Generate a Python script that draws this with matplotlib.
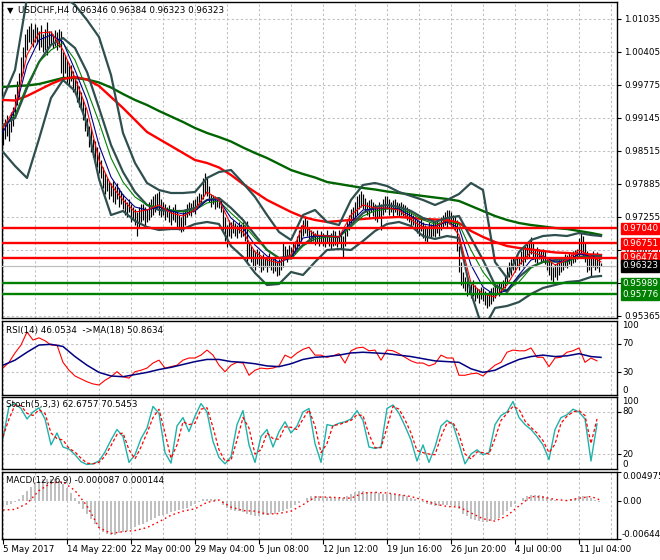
import numpy as np
import matplotlib
matplotlib.use("Agg")
import matplotlib.pyplot as plt

# ---------------- data ----------------
title_text = "USDCHF,H4 0.96346 0.96384 0.96323 0.96323"
rsi_text = "RSI(14) 46.0534  ->MA(18) 50.8634"
sto_text = "Stoch(5,3,3) 62.6757 70.5453"
macd_text = "MACD(12,26,9) -0.000087 0.000144"

date_bars = [0, 32, 64, 96, 128, 160, 192, 224, 256, 288]
date_labels = ["5 May 2017", "14 May 22:00", "22 May 00:00", "29 May 04:00", "5 Jun 08:00",
               "12 Jun 12:00", "19 Jun 16:00", "26 Jun 20:00", "4 Jul 00:00", "11 Jul 04:00"]

price_ticks = [1.01035, 1.00405, 0.99775, 0.99145, 0.98515, 0.97885, 0.97255, 0.96625, 0.95995, 0.95365]
red_levels = [0.97040, 0.96751, 0.96474]
green_levels = [0.95989, 0.95776]
last_price = 0.96323

bar_low = [
0.9862, 0.9875, 0.9880, 0.9870, 0.9888, 0.9900, 0.9915, 0.9940, 0.9955, 0.9985,
1.0000, 1.0030, 1.0045, 1.0060, 1.0055, 1.0050, 1.0060, 1.0055, 1.0045, 1.0050,
1.0040, 1.0045, 1.0035, 1.0050, 1.0055, 1.0048, 1.0052, 1.0045, 1.0050, 1.0000,
0.9990, 1.0000, 0.9980, 0.9975, 0.9985, 0.9965, 0.9960, 0.9945, 0.9935, 0.9930,
0.9910, 0.9890, 0.9880, 0.9860, 0.9850, 0.9840, 0.9830, 0.9820, 0.9810, 0.9800,
0.9780, 0.9770, 0.9775, 0.9760, 0.9765, 0.9755, 0.9750, 0.9760, 0.9745, 0.9750,
0.9740, 0.9730, 0.9725, 0.9735, 0.9715, 0.9720, 0.9710, 0.9690, 0.9705, 0.9715,
0.9720, 0.9710, 0.9715, 0.9720, 0.9725, 0.9730, 0.9735, 0.9740, 0.9730, 0.9725,
0.9730, 0.9720, 0.9725, 0.9715, 0.9710, 0.9720, 0.9715, 0.9705, 0.9700, 0.9697,
0.9698, 0.9710, 0.9725, 0.9730, 0.9728, 0.9735, 0.9732, 0.9740, 0.9745, 0.9750,
0.9760, 0.9770, 0.9765, 0.9755, 0.9745, 0.9750, 0.9740, 0.9745, 0.9742, 0.9735,
0.9700, 0.9680, 0.9668, 0.9690, 0.9685, 0.9695, 0.9690, 0.9685, 0.9695, 0.9688,
0.9690, 0.9680, 0.9640, 0.9650, 0.9640, 0.9630, 0.9625, 0.9635, 0.9630, 0.9620,
0.9625, 0.9630, 0.9620, 0.9630, 0.9625, 0.9618, 0.9622, 0.9612, 0.9615, 0.9625,
0.9630, 0.9645, 0.9640, 0.9650, 0.9645, 0.9650, 0.9655, 0.9660, 0.9670, 0.9680,
0.9690, 0.9695, 0.9690, 0.9680, 0.9675, 0.9680, 0.9672, 0.9678, 0.9670, 0.9675,
0.9670, 0.9668, 0.9675, 0.9670, 0.9665, 0.9670, 0.9672, 0.9668, 0.9675, 0.9665,
0.9650, 0.9670, 0.9690, 0.9700, 0.9710, 0.9715, 0.9720, 0.9730, 0.9740, 0.9745,
0.9740, 0.9735, 0.9730, 0.9725, 0.9735, 0.9728, 0.9720, 0.9715, 0.9725, 0.9700,
0.9730, 0.9735, 0.9740, 0.9730, 0.9735, 0.9728, 0.9735, 0.9730, 0.9725, 0.9730,
0.9728, 0.9725, 0.9720, 0.9715, 0.9705, 0.9710, 0.9700, 0.9695, 0.9690, 0.9698,
0.9685, 0.9680, 0.9676, 0.9690, 0.9685, 0.9690, 0.9688, 0.9695, 0.9690, 0.9700,
0.9705, 0.9710, 0.9705, 0.9712, 0.9708, 0.9705, 0.9700, 0.9660, 0.9620, 0.9595,
0.9590, 0.9585, 0.9575, 0.9580, 0.9570, 0.9575, 0.9565, 0.9570, 0.9562, 0.9568,
0.9565, 0.9558, 0.9552, 0.9555, 0.9560, 0.9565, 0.9570, 0.9578, 0.9575, 0.9580,
0.9585, 0.9590, 0.9600, 0.9610, 0.9615, 0.9625, 0.9620, 0.9630, 0.9625, 0.9635,
0.9630, 0.9640, 0.9645, 0.9650, 0.9655, 0.9645, 0.9640, 0.9635, 0.9645, 0.9638,
0.9640, 0.9635, 0.9625, 0.9615, 0.9605, 0.9600, 0.9610, 0.9605, 0.9615, 0.9620,
0.9625, 0.9630, 0.9628, 0.9635, 0.9632, 0.9638, 0.9640, 0.9645, 0.9650, 0.9655,
0.9650, 0.9640, 0.9620, 0.9625, 0.9610, 0.9630, 0.9625, 0.9628, 0.9620, 0.96323]

bar_high = [
0.9898, 0.9912, 0.9920, 0.9905, 0.9925, 0.9935, 0.9960, 0.9985, 1.0000, 1.0030,
1.0050, 1.0075, 1.0085, 1.0090, 1.0096, 1.0085, 1.0094, 1.0088, 1.0080, 1.0092,
1.0075, 1.0085, 1.0098, 1.0080, 1.0080, 1.0075, 1.0082, 1.0078, 1.0085, 1.0080,
1.0040, 1.0035, 1.0025, 1.0020, 1.0015, 1.0005, 0.9995, 0.9985, 0.9975, 0.9965,
0.9950, 0.9935, 0.9915, 0.9900, 0.9895, 0.9875, 0.9870, 0.9860, 0.9850, 0.9835,
0.9820, 0.9810, 0.9800, 0.9795, 0.9790, 0.9795, 0.9785, 0.9790, 0.9780, 0.9775,
0.9770, 0.9760, 0.9755, 0.9760, 0.9750, 0.9745, 0.9740, 0.9735, 0.9745, 0.9750,
0.9750, 0.9745, 0.9740, 0.9755, 0.9760, 0.9765, 0.9770, 0.9772, 0.9775, 0.9760,
0.9755, 0.9750, 0.9745, 0.9748, 0.9740, 0.9745, 0.9750, 0.9735, 0.9730, 0.9725,
0.9735, 0.9740, 0.9750, 0.9755, 0.9752, 0.9758, 0.9760, 0.9765, 0.9772, 0.9770,
0.9800, 0.9810, 0.9800, 0.9785, 0.9770, 0.9768, 0.9765, 0.9760, 0.9762, 0.9760,
0.9740, 0.9725, 0.9710, 0.9720, 0.9715, 0.9720, 0.9714, 0.9710, 0.9715, 0.9712,
0.9715, 0.9710, 0.9718, 0.9675, 0.9670, 0.9665, 0.9660, 0.9665, 0.9660, 0.9650,
0.9655, 0.9650, 0.9648, 0.9657, 0.9650, 0.9645, 0.9650, 0.9640, 0.9645, 0.9650,
0.9676, 0.9670, 0.9665, 0.9672, 0.9668, 0.9675, 0.9680, 0.9690, 0.9700, 0.9710,
0.9720, 0.9728, 0.9720, 0.9705, 0.9700, 0.9698, 0.9695, 0.9700, 0.9692, 0.9698,
0.9695, 0.9690, 0.9700, 0.9692, 0.9695, 0.9700, 0.9698, 0.9690, 0.9700, 0.9695,
0.9690, 0.9705, 0.9720, 0.9730, 0.9740, 0.9745, 0.9755, 0.9765, 0.9770, 0.9775,
0.9770, 0.9762, 0.9755, 0.9758, 0.9760, 0.9755, 0.9750, 0.9745, 0.9755, 0.9750,
0.9760, 0.9765, 0.9765, 0.9760, 0.9755, 0.9758, 0.9760, 0.9755, 0.9752, 0.9755,
0.9750, 0.9748, 0.9745, 0.9740, 0.9735, 0.9730, 0.9728, 0.9720, 0.9718, 0.9725,
0.9715, 0.9710, 0.9705, 0.9715, 0.9712, 0.9720, 0.9715, 0.9720, 0.9715, 0.9725,
0.9730, 0.9735, 0.9738, 0.9738, 0.9735, 0.9730, 0.9728, 0.9720, 0.9670, 0.9640,
0.9620, 0.9611, 0.9605, 0.9600, 0.9598, 0.9605, 0.9595, 0.9590, 0.9588, 0.9592,
0.9590, 0.9585, 0.9580, 0.9585, 0.9590, 0.9592, 0.9595, 0.9598, 0.9600, 0.9602,
0.9605, 0.9615, 0.9630, 0.9640, 0.9645, 0.9650, 0.9648, 0.9655, 0.9650, 0.9660,
0.9665, 0.9670, 0.9675, 0.9678, 0.9687, 0.9675, 0.9665, 0.9668, 0.9665, 0.9662,
0.9665, 0.9660, 0.9650, 0.9645, 0.9640, 0.9630, 0.9635, 0.9640, 0.9645, 0.9650,
0.9650, 0.9655, 0.9652, 0.9657, 0.9655, 0.9660, 0.9662, 0.9665, 0.9685, 0.9695,
0.9690, 0.9675, 0.9660, 0.9655, 0.9650, 0.9660, 0.9655, 0.9658, 0.9650, 0.96384]

# smooth indicator lines, read every 6 bars (+ last bar)
ma_slow_green = [
0.99737, 0.99756, 0.99765, 0.99794, 0.99851, 0.99909, 0.99909, 0.99880, 0.99823, 0.99727,
0.99603, 0.99489, 0.99393, 0.99279, 0.99174, 0.99069, 0.98954, 0.98859, 0.98782, 0.98696,
0.98582, 0.98477, 0.98381, 0.98267, 0.98152, 0.98076, 0.98009, 0.97923, 0.97885, 0.97847,
0.97809, 0.97780, 0.97742, 0.97713, 0.97685, 0.97656, 0.97627, 0.97599, 0.97561, 0.97465,
0.97370, 0.97274, 0.97198, 0.97140, 0.97102, 0.97074, 0.97045, 0.97026, 0.96988, 0.96950,
0.96912]
ma_slow_red = [
0.99489, 0.99479, 0.99565, 0.99680, 0.99794, 0.99890, 0.99928, 0.99880, 0.99756, 0.99546,
0.99336, 0.99107, 0.98878, 0.98744, 0.98611, 0.98477, 0.98343, 0.98286, 0.98200, 0.98057,
0.97885, 0.97732, 0.97580, 0.97465, 0.97351, 0.97255, 0.97198, 0.97160, 0.97179, 0.97198,
0.97217, 0.97236, 0.97245, 0.97255, 0.97236, 0.97217, 0.97207, 0.97198, 0.97140, 0.96988,
0.96874, 0.96778, 0.96701, 0.96663, 0.96635, 0.96607, 0.96578, 0.96568, 0.96549, 0.96540,
0.96530]
bb_upper = [
0.99527, 1.00061, 1.01436, 1.01684, 1.01551, 1.01474, 1.01302, 1.01016, 1.00691, 0.99966,
0.98859, 0.98286, 0.97904, 0.97770, 0.97713, 0.97713, 0.97732, 0.98000, 0.98114, 0.98152,
0.97904, 0.97637, 0.97293, 0.96969, 0.96816, 0.97293, 0.97389, 0.97160, 0.97102, 0.97580,
0.97866, 0.97904, 0.97847, 0.97732, 0.97656, 0.97580, 0.97484, 0.97580, 0.97694, 0.97904,
0.97770, 0.96396, 0.96090, 0.96587, 0.96816, 0.96892, 0.96911, 0.96892, 0.96950, 0.96911,
0.96892]
bb_middle = [
0.99011, 0.99145, 0.99718, 1.00214, 1.00539, 1.00672, 1.00481, 1.00023, 0.99336, 0.98630,
0.98114, 0.97732, 0.97484, 0.97389, 0.97370, 0.97370, 0.97427, 0.97580, 0.97618, 0.97427,
0.97198, 0.96911, 0.96625, 0.96472, 0.96510, 0.96720, 0.96892, 0.96892, 0.96873, 0.97102,
0.97331, 0.97446, 0.97484, 0.97446, 0.97370, 0.97236, 0.97160, 0.97236, 0.97274, 0.96854,
0.96434, 0.95957, 0.95823, 0.96110, 0.96300, 0.96396, 0.96434, 0.96453, 0.96491, 0.96510,
0.96510]
bb_lower = [
0.98496, 0.98229, 0.98000, 0.98744, 0.99527, 0.99870, 0.99661, 0.99031, 0.97980, 0.97293,
0.97370, 0.97179, 0.97064, 0.97007, 0.97026, 0.97026, 0.97121, 0.97160, 0.97121, 0.96701,
0.96491, 0.96186, 0.95957, 0.95976, 0.96205, 0.96148, 0.96396, 0.96625, 0.96644, 0.96625,
0.96797, 0.96988, 0.97121, 0.97160, 0.97083, 0.96892, 0.96835, 0.96892, 0.96854, 0.95804,
0.95098, 0.95518, 0.95556, 0.95632, 0.95785, 0.95900, 0.95957, 0.96014, 0.96033, 0.96110,
0.96129]
ma_fast_red = [
0.98954, 0.99336, 1.00348, 1.00768, 1.00787, 1.00443, 0.99909, 0.99298, 0.98343, 0.97866,
0.97580, 0.97351, 0.97389, 0.97484, 0.97331, 0.97274, 0.97389, 0.97732, 0.97580, 0.97102,
0.96969, 0.96587, 0.96434, 0.96377, 0.96530, 0.97102, 0.96911, 0.96892, 0.96873, 0.97293,
0.97484, 0.97427, 0.97427, 0.97389, 0.97198, 0.97064, 0.97064, 0.97198, 0.96911, 0.95995,
0.95785, 0.95728, 0.95957, 0.96339, 0.96587, 0.96510, 0.96339, 0.96434, 0.96625, 0.96510,
0.96396]
ma_fast_blue = [
0.98878, 0.99298, 1.00157, 1.00634, 1.00730, 1.00596, 1.00061, 0.99489, 0.98630, 0.98019,
0.97675, 0.97446, 0.97389, 0.97446, 0.97370, 0.97312, 0.97370, 0.97580, 0.97580, 0.97236,
0.97045, 0.96720, 0.96510, 0.96396, 0.96472, 0.96854, 0.96892, 0.96892, 0.96873, 0.97160,
0.97389, 0.97408, 0.97427, 0.97408, 0.97274, 0.97121, 0.97083, 0.97160, 0.97045, 0.96339,
0.95919, 0.95766, 0.95862, 0.96148, 0.96434, 0.96510, 0.96396, 0.96415, 0.96549, 0.96510,
0.96453]
ma_fast_green = [
0.98973, 0.99202, 0.99775, 1.00214, 1.00443, 1.00577, 1.00252, 0.99680, 0.99069, 0.98381,
0.97923, 0.97637, 0.97484, 0.97446, 0.97389, 0.97351, 0.97389, 0.97522, 0.97561, 0.97331,
0.97121, 0.96854, 0.96625, 0.96472, 0.96453, 0.96701, 0.96835, 0.96873, 0.96873, 0.97064,
0.97274, 0.97370, 0.97408, 0.97408, 0.97331, 0.97198, 0.97121, 0.97160, 0.97121, 0.96625,
0.96205, 0.95919, 0.95862, 0.96014, 0.96281, 0.96396, 0.96396, 0.96396, 0.96491, 0.96491,
0.96453]

# RSI, read every 3 bars
rsi = [
36, 44, 57, 68, 86, 75, 78, 74, 68, 68,
44, 33, 25, 21, 17, 14, 12.5, 19, 24, 31,
24, 22, 31, 33, 36, 43, 47, 36, 38, 40,
47, 50, 50, 54, 61, 54, 40, 31, 40, 44,
43, 26, 33, 36, 35, 36, 39, 54, 50, 57,
62, 65, 54, 54, 51, 53, 56, 43, 60, 64,
65, 60, 61, 47, 61, 60, 56, 51, 46, 43,
43, 39, 42, 54, 50, 50, 26, 26, 28, 29,
25, 33, 40, 44, 58, 61, 60, 60, 64, 51,
51, 38, 50, 51, 58, 60, 64, 44, 50, 46]
# RSI moving average, every 6 bars (+ last bar)
rsi_ma = [
40, 47, 58, 68, 69, 66, 52, 40, 30, 25,
24, 27, 30, 34, 37, 41, 45, 48, 48, 45,
44, 42, 39, 38, 42, 48, 51, 52, 54, 57,
58, 57, 56, 54, 52, 49, 46, 45, 44, 35,
30, 33, 41, 48, 52, 54, 52, 53, 56, 52,
50.86]
# Stochastic, every 3 bars
sto_main = [
42, 88, 92, 85, 70, 80, 86, 70, 33, 50,
30, 27, 19, 9, 5, 6, 10, 23, 40, 55,
45, 8, 19, 42, 57, 88, 78, 22, 7, 60,
72, 52, 74, 92, 80, 38, 15, 6, 16, 62,
82, 33, 8, 45, 55, 30, 52, 66, 50, 60,
80, 85, 35, 8, 62, 60, 64, 66, 70, 82,
68, 30, 28, 30, 85, 90, 78, 60, 40, 10,
33, 8, 30, 60, 68, 62, 35, 6, 20, 26,
19, 22, 62, 75, 80, 95, 72, 62, 55, 45,
33, 12, 55, 72, 76, 84, 80, 70, 10, 63]
sto_signal = [
45, 70, 90, 89, 78, 75, 83, 78, 50, 42,
40, 28, 23, 14, 7, 6, 8, 17, 32, 48,
50, 26, 13, 30, 50, 72, 84, 50, 14, 33,
66, 62, 64, 84, 86, 58, 26, 10, 11, 40,
72, 57, 20, 26, 50, 42, 41, 59, 58, 55,
70, 83, 60, 22, 35, 61, 62, 65, 68, 76,
75, 48, 29, 29, 58, 88, 84, 69, 50, 25,
22, 20, 19, 45, 64, 65, 48, 20, 13, 23,
22, 20, 42, 68, 78, 88, 84, 67, 58, 50,
39, 22, 34, 64, 74, 80, 82, 75, 35, 70]
# MACD histogram, every 2 bars
macd_hist = [
-0.0008, -0.0007, -0.0005, -0.0002, 0.0003, 0.0010, 0.0017, 0.0024, 0.0030, 0.0034,
0.0037, 0.0038, 0.0038, 0.0037, 0.0035, 0.0030, 0.0023, 0.0014, 0.0005, -0.0004,
-0.0013, -0.0022, -0.0031, -0.0039, -0.0046, -0.0052, -0.0056, -0.0058, -0.0057, -0.0055,
-0.0053, -0.0051, -0.0047, -0.0044, -0.0041, -0.0039, -0.0035, -0.0032, -0.0029, -0.0026,
-0.0024, -0.0021, -0.0019, -0.0017, -0.0015, -0.0013, -0.0011, -0.0008, -0.0005, -0.0001,
0.0003, 0.0004, 0.0004, 0.0003, 0.0000, -0.0006, -0.0012, -0.0015, -0.0016, -0.0017,
-0.0019, -0.0022, -0.0024, -0.0025, -0.0025, -0.0024, -0.0023, -0.0022, -0.0021, -0.0019,
-0.0017, -0.0014, -0.0011, -0.0007, -0.0003, 0.0001, 0.0005, 0.0008, 0.0009, 0.0008,
0.0008, 0.0007, 0.0007, 0.0006, 0.0006, 0.0005, 0.0008, 0.0012, 0.0015, 0.0017,
0.0017, 0.0016, 0.0016, 0.0015, 0.0014, 0.0012, 0.0013, 0.0013, 0.0012, 0.0011,
0.0010, 0.0008, 0.0006, 0.0003, 0.0001, -0.0002, -0.0005, -0.0007, -0.0008, -0.0008,
-0.0007, -0.0006, -0.0006, -0.0008, -0.0014, -0.0021, -0.0026, -0.0030, -0.0032, -0.0034,
-0.0035, -0.0035, -0.0034, -0.0032, -0.0028, -0.0023, -0.0017, -0.0010, -0.0004, 0.0001,
0.0005, 0.0008, 0.0010, 0.0011, 0.0010, 0.0009, 0.0007, 0.0004, 0.0002, 0.0001,
0.0001, 0.0002, 0.0004, 0.0006, 0.0008, 0.0009, 0.0008, 0.0005, 0.0002, -0.000087]
# MACD signal, every 6 bars (+ last bar)
macd_signal = [
-0.0015, -0.0014, -0.0004, 0.0018, 0.0031, 0.0033, 0.0018, -0.0008, -0.0045, -0.0055,
-0.0052, -0.0050, -0.0045, -0.0035, -0.0024, -0.0017, -0.0013, -0.0002, 0.0002, -0.0010,
-0.0016, -0.0017, -0.0022, -0.0021, -0.0017, -0.0006, 0.0007, 0.0007, 0.0006, 0.0005,
0.0014, 0.0015, 0.0014, 0.0011, 0.0008, 0.0002, -0.0005, -0.0009, -0.0010, -0.0020,
-0.0030, -0.0034, -0.0025, -0.0008, 0.0008, 0.0007, 0.0003, 0.0001, 0.0005, 0.0008,
0.000144]
macd_max, macd_min = 0.004975, -0.006447

# ---------------- drawing ----------------
plt.rcParams['font.family'] = ['DejaVu Sans']
FS = 6.3
W, H, DPI = 660, 560, 100
fig = plt.figure(figsize=(W / DPI, H / DPI), dpi=DPI)
fig.patch.set_facecolor('white')

def panel(top, bottom, left=2, right=617):
    return fig.add_axes([left / W, 1 - bottom / H, (right - left) / W, (bottom - top) / H])

ax = panel(2, 318)
ax_rsi = panel(321, 395)
ax_sto = panel(397, 469)
ax_macd = panel(472, 539)

N = len(bar_low)
bars = np.arange(N)
XMAX = 307
gx = np.append(np.arange(0, 295, 6), N - 1)       # bars of the smooth-line readings
x3 = np.arange(len(rsi)) * 3
x2 = np.arange(len(macd_hist)) * 2

GRID = dict(color='#c0c0c0', linestyle=(0, (2.2, 2.2)), linewidth=0.75)

for a in (ax, ax_rsi, ax_sto, ax_macd):
    a.set_xlim(-0.5, XMAX)
    a.set_axisbelow(True)
    for s in a.spines.values():
        s.set_linewidth(1.0)
        s.set_color('black')
    a.yaxis.tick_right()
    if a is not ax_macd:
        a.set_xticks(np.arange(0, XMAX, 16))
        a.tick_params(axis='x', length=0, labelbottom=False)
        a.grid(axis='x', **GRID)
    a.tick_params(axis='y', length=3, width=0.8, pad=2, labelsize=FS, colors='black')

# main chart
ax.set_ylim(0.953267, 1.013595)
ax.set_yticks(price_ticks)
ax.set_yticklabels([f"{v:.5f}" for v in price_ticks])
ax.grid(axis='y', **GRID)
ax.vlines(bars, bar_low, bar_high, color='black', lw=0.85, zorder=2)
ax.plot(gx, ma_slow_green, color='#006400', lw=1.7, zorder=3)
ax.plot(gx, ma_slow_red, color='#ff0000', lw=1.7, zorder=3)
for band in (bb_upper, bb_middle, bb_lower):
    ax.plot(gx, band, color='#2f4f4f', lw=1.6, zorder=3)
ax.plot(gx, ma_fast_green, color='#008000', lw=0.8, zorder=3)
ax.plot(gx, ma_fast_blue, color='#00008b', lw=0.8, zorder=3)
ax.plot(gx, ma_fast_red, color='#ff0000', lw=0.8, zorder=3)
ax.axhline(last_price, color='#c0c0c0', lw=0.9, zorder=3)
for v in red_levels:
    ax.axhline(v, color='#ff0000', lw=1.7, zorder=4)
for v in green_levels:
    ax.axhline(v, color='#008000', lw=1.7, zorder=4)

def box_label(v, fc):
    ax.annotate(f"{v:.5f}", xy=(1, v), xycoords=('axes fraction', 'data'),
                xytext=(5, 0), textcoords='offset pixels', ha='left', va='center',
                fontsize=FS, color='white', annotation_clip=False, zorder=10,
                bbox=dict(boxstyle='square,pad=0.14', fc=fc, ec=fc))

for v in red_levels:
    box_label(v, '#ff0000')
box_label(last_price, '#000000')
for v in green_levels:
    box_label(v, '#008000')

ax.text(5 / 615, 1 - 9 / 316, "\u25BC", transform=ax.transAxes, fontsize=6,
        ha='left', va='center', color='black')
ax.text(16 / 615, 1 - 9 / 316, title_text, transform=ax.transAxes, fontsize=FS,
        ha='left', va='center', color='black')

def right_text(a, v, s, va='center'):
    a.annotate(s, xy=(1, v), xycoords=('axes fraction', 'data'), xytext=(5, 0),
               textcoords='offset pixels', ha='left', va=va, fontsize=FS,
               color='black', annotation_clip=False)

# RSI
ax_rsi.set_ylim(-1.4, 101.4)
ax_rsi.set_yticks([70, 30])
ax_rsi.set_yticklabels([])
ax_rsi.grid(axis='y', **GRID)
ax_rsi.plot(x3, rsi, color='#ff0000', lw=0.8)
ax_rsi.plot(gx, rsi_ma, color='#000080', lw=1.1)
right_text(ax_rsi, 101.4, "100", va='top')
right_text(ax_rsi, 70, "70")
right_text(ax_rsi, 30, "30")
right_text(ax_rsi, -1.4, "0", va='bottom')
ax_rsi.text(4 / 615, 1 - 9 / 74, rsi_text, transform=ax_rsi.transAxes, fontsize=FS,
            ha='left', va='center')

# Stochastic
ax_sto.set_ylim(-1.4, 101.4)
ax_sto.set_yticks([80, 20])
ax_sto.set_yticklabels([])
ax_sto.grid(axis='y', **GRID)
ax_sto.plot(x3, sto_main, color='#20b2aa', lw=1.0)
ax_sto.plot(x3, sto_signal, color='#ff0000', lw=0.9, linestyle=(0, (2.5, 1.8)))
right_text(ax_sto, 101.4, "100", va='top')
right_text(ax_sto, 80, "80")
right_text(ax_sto, 20, "20")
right_text(ax_sto, -1.4, "0", va='bottom')
ax_sto.text(4 / 615, 1 - 8 / 72, sto_text, transform=ax_sto.transAxes, fontsize=FS,
            ha='left', va='center')

# MACD
ax_macd.set_ylim(macd_min, macd_max)
ax_macd.set_yticks([macd_max, 0.0, macd_min])
ax_macd.set_yticklabels([])
ax_macd.bar(x2, macd_hist, width=1.0, color='#c0c0c0', linewidth=0)
ax_macd.plot(gx, macd_signal, color='#ff0000', lw=1.0, linestyle=(0, (1.2, 2.2)))
right_text(ax_macd, macd_max, f"{macd_max:.6f}", va='top')
right_text(ax_macd, 0.0, "0.00")
right_text(ax_macd, macd_min, f"{macd_min:.6f}", va='bottom')
ax_macd.text(4 / 615, 1 - 9 / 67, macd_text, transform=ax_macd.transAxes, fontsize=FS,
             ha='left', va='center')
ax_macd.set_xticks(date_bars)
ax_macd.set_xticklabels(date_labels, ha='left')
ax_macd.set_xticks(np.arange(16, XMAX, 32), minor=True)
ax_macd.tick_params(axis='x', which='major', length=3.6, width=0.8, pad=0.8, labelsize=FS)
ax_macd.tick_params(axis='x', which='minor', length=0)
ax_macd.grid(axis='x', which='both', **GRID)

fig.savefig("out.png", dpi=DPI)
